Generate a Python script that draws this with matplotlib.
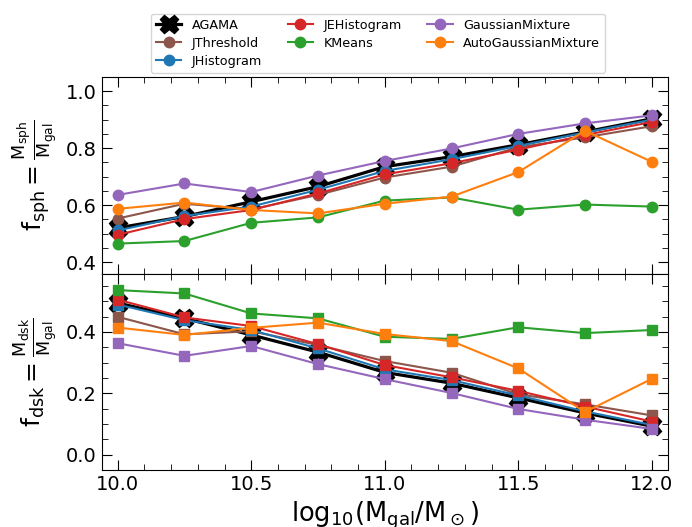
import matplotlib.pyplot as plt
from matplotlib.ticker import MultipleLocator

plt.rcParams['mathtext.default'] = 'regular'

x = [10.0, 10.25, 10.5, 10.75, 11.0, 11.25, 11.5, 11.75, 12.0]

# spheroid fractions
sph_agama = [0.52, 0.56, 0.612, 0.665, 0.735, 0.77, 0.812, 0.857, 0.903]
sph_jthr = [0.553, 0.605, 0.585, 0.636, 0.697, 0.735, 0.803, 0.838, 0.877]
sph_jhist = [0.511, 0.562, 0.595, 0.654, 0.72, 0.761, 0.808, 0.855, 0.9]
sph_jehist = [0.496, 0.551, 0.583, 0.641, 0.708, 0.747, 0.795, 0.846, 0.892]
sph_kmeans = [0.465, 0.474, 0.538, 0.557, 0.616, 0.627, 0.584, 0.602, 0.595]
sph_gmm = [0.636, 0.676, 0.646, 0.704, 0.755, 0.799, 0.85, 0.887, 0.915]
sph_autogmm = [0.587, 0.609, 0.583, 0.571, 0.605, 0.63, 0.716, 0.861, 0.752]

# disk fractions
dsk_agama = [0.494, 0.444, 0.39, 0.334, 0.268, 0.233, 0.185, 0.136, 0.093]
dsk_jthr = [0.449, 0.392, 0.402, 0.357, 0.305, 0.267, 0.197, 0.164, 0.128]
dsk_jhist = [0.489, 0.438, 0.406, 0.346, 0.278, 0.243, 0.193, 0.141, 0.097]
dsk_jehist = [0.505, 0.447, 0.419, 0.36, 0.292, 0.252, 0.208, 0.157, 0.108]
dsk_kmeans = [0.536, 0.525, 0.46, 0.444, 0.384, 0.377, 0.415, 0.396, 0.406]
dsk_gmm = [0.363, 0.322, 0.354, 0.295, 0.246, 0.201, 0.149, 0.114, 0.084]
dsk_autogmm = [0.414, 0.39, 0.413, 0.43, 0.393, 0.37, 0.281, 0.139, 0.247]

labels = ['AGAMA', 'JThreshold', 'JHistogram', 'JEHistogram', 'KMeans',
          'GaussianMixture', 'AutoGaussianMixture']
colors = ['black', 'C5', 'C0', 'C3', 'C2', 'C4', 'C1']
sph = [sph_agama, sph_jthr, sph_jhist, sph_jehist, sph_kmeans, sph_gmm, sph_autogmm]
dsk = [dsk_agama, dsk_jthr, dsk_jhist, dsk_jehist, dsk_kmeans, dsk_gmm, dsk_autogmm]

fig, (ax1, ax2) = plt.subplots(2, 1, figsize=(6.92, 5.27), dpi=100, sharex=True)
fig.subplots_adjust(left=0.147, right=0.965, top=0.854, bottom=0.108, hspace=0)

for i, lab in enumerate(labels):
    if lab == 'AGAMA':
        ax1.plot(x, sph[i], color='black', marker='X', ms=13, lw=2.3, label=lab, zorder=1)
        ax2.plot(x, dsk[i], color='black', marker='X', ms=13, lw=2.3, zorder=1)
    else:
        ax1.plot(x, sph[i], color=colors[i], marker='o', ms=7.5, lw=1.5, label=lab, zorder=2)
        ax2.plot(x, dsk[i], color=colors[i], marker='s', ms=7, lw=1.5, zorder=2)

ax1.set_ylim(0.36, 1.05)
ax2.set_ylim(-0.05, 0.59)
ax2.set_xlim(9.94, 12.06)

for ax in (ax1, ax2):
    ax.xaxis.set_major_locator(MultipleLocator(0.5))
    ax.xaxis.set_minor_locator(MultipleLocator(0.1))
    ax.yaxis.set_major_locator(MultipleLocator(0.2))
    ax.yaxis.set_minor_locator(MultipleLocator(0.05))
    ax.tick_params(which='both', direction='in', top=True, right=True, labelsize=14)
    ax.tick_params(which='major', length=7)
    ax.tick_params(which='minor', length=4)

ax1.set_ylabel(r'$f_{sph} = \frac{M_{sph}}{M_{gal}}$', fontsize=18)
ax2.set_ylabel(r'$f_{dsk} = \frac{M_{dsk}}{M_{gal}}$', fontsize=18)
ax2.set_xlabel(r'$log_{10}(M_{gal}/M_\odot)$', fontsize=18.5)

fig.legend(*ax1.get_legend_handles_labels(), ncol=3, fontsize=9.2,
           handlelength=2.0, columnspacing=2.0, labelspacing=0.4, borderaxespad=0,
           loc='lower center', bbox_to_anchor=(0.546, 1 - 73 / 527))

plt.savefig('out.png')
